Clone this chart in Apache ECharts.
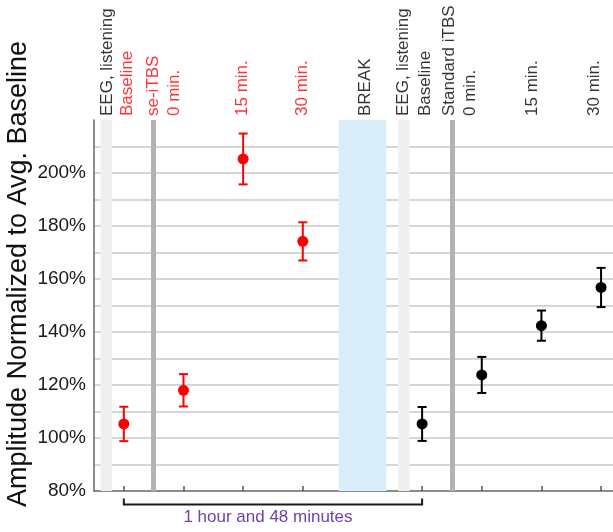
<!DOCTYPE html>
<html><head><meta charset="utf-8">
<script src="https://cdn.jsdelivr.net/npm/echarts@6/dist/echarts.min.js"></script>
<style>html,body{margin:0;padding:0;background:#fff}#c{width:613px;height:532px}</style>
</head><body><div id="c"></div>
<script>
// ---- data ----
const redX = [0, 1, 2, 3];
const redMean = [105.3, 118.0, 205.3, 174.2];
const redErr = [6.5, 6.1, 9.6, 7.2];
const blackX = [5, 6, 7, 8];
const blackMean = [105.3, 123.8, 142.4, 156.8];
const blackErr = [6.4, 6.8, 5.7, 7.4];
const yTickLabels = [80, 100, 120, 140, 160, 180, 200];
const xTicks = [0, 1, 2, 3, 4, 5, 6, 7, 8];
const yTitle = 'Amplitude Normalized to Avg. Baseline';
const headerText = ['EEG, listening', 'Baseline', 'se-iTBS', '0 min.', '15 min.', '30 min.', 'BREAK', 'EEG, listening', 'Baseline', 'Standard iTBS', '0 min.', '15 min.', '30 min.'];
const headerRed = [false, true, true, true, true, true, false, false, false, false, false, false, false];
const headerX = [-0.28, 0.06, 0.5, 0.85, 1.98, 2.99, 4.05, 4.69, 5.05, 5.45, 5.81, 6.85, 7.88];
const lightBands = [[-0.39, -0.2], [4.6, 4.79]];
const breakBand = [3.6, 4.4];
const stimLines = [0.5, 5.5];
const bracketRange = [0, 5];
const bracketText = '1 hour and 48 minutes';

const FONT = '"Liberation Sans", Arial, sans-serif';
const RED = '#ff0000', BLACK = '#000000';

function errBar(color) {
  return function (params, api) {
    const x = api.value(0), lo = api.value(1), hi = api.value(2);
    const a = api.coord([x, hi]), b = api.coord([x, lo]);
    const w = 4.5;
    const st = { stroke: color, lineWidth: 2 };
    return { type: 'group', children: [
      { type: 'line', shape: { x1: a[0], y1: a[1], x2: b[0], y2: b[1] }, style: st },
      { type: 'line', shape: { x1: a[0] - w, y1: a[1], x2: a[0] + w, y2: a[1] }, style: st },
      { type: 'line', shape: { x1: b[0] - w, y1: b[1], x2: b[0] + w, y2: b[1] }, style: st }
    ]};
  };
}

const chart = echarts.init(document.getElementById('c'), null, { renderer: 'canvas' });
chart.setOption({
  animation: false,
  textStyle: { fontFamily: FONT },
  grid: { left: 94, right: 0, top: 120, bottom: 41, containLabel: false, outerBoundsMode: 'none' },
  graphic: [{
    type: 'text', x: 19, y: 274, rotation: Math.PI / 2, silent: true,
    style: { text: yTitle, fontSize: 27, fill: '#111', fontFamily: FONT, align: 'center', verticalAlign: 'middle' }
  }],
  xAxis: {
    type: 'value', min: -0.5, max: 8.2,
    axisLine: { show: true, onZero: false, lineStyle: { color: '#666', width: 1.5 } },
    axisTick: { show: true, customValues: xTicks, inside: true, length: 5, lineStyle: { color: '#555', width: 1.5 } },
    axisLabel: { show: false },
    splitLine: { show: false }
  },
  yAxis: {
    type: 'value', min: 80, max: 220, interval: 10,
    axisLine: { show: true, onZero: false, lineStyle: { color: '#666', width: 1.5 } },
    axisTick: { show: false },
    axisLabel: { customValues: yTickLabels, formatter: '{value}%', fontSize: 19, color: '#1a1a1a', margin: 8, fontFamily: FONT },
    splitLine: { show: true, showMinLine: false, showMaxLine: false, lineStyle: { color: '#c8c8c8', width: 1.5 } }
  },
  series: [
    {
      type: 'scatter', symbolSize: 0, silent: true, z: 1,
      data: headerX.map((x, i) => ({
        value: [x, 220],
        label: { formatter: headerText[i], color: headerRed[i] ? RED : BLACK }
      })),
      label: { show: true, position: 'top', distance: 4, rotate: 90, align: 'left', verticalAlign: 'middle', fontSize: 17, fontFamily: FONT },
      markArea: {
        silent: true,
        data: [
          ...lightBands.map(b => [{ xAxis: b[0], itemStyle: { color: '#efefef' } }, { xAxis: b[1] }]),
          [{ xAxis: breakBand[0], itemStyle: { color: '#d9eef9' } }, { xAxis: breakBand[1] }]
        ]
      },
      markLine: {
        silent: true, symbol: 'none', label: { show: false },
        lineStyle: { color: '#b3b3b3', width: 5, type: 'solid' },
        data: stimLines.map(x => ({ xAxis: x }))
      }
    },
    {
      type: 'custom', z: 3, clip: false,
      data: redX.map((x, i) => [x, redMean[i] - redErr[i], redMean[i] + redErr[i]]),
      encode: { x: 0, y: [1, 2] },
      renderItem: errBar(RED)
    },
    {
      type: 'custom', z: 3, clip: false,
      data: blackX.map((x, i) => [x, blackMean[i] - blackErr[i], blackMean[i] + blackErr[i]]),
      encode: { x: 0, y: [1, 2] },
      renderItem: errBar(BLACK)
    },
    {
      type: 'scatter', z: 4, symbol: 'circle', symbolSize: 11,
      itemStyle: { color: RED, opacity: 1 },
      data: redX.map((x, i) => [x, redMean[i]])
    },
    {
      type: 'scatter', z: 4, symbol: 'circle', symbolSize: 11,
      itemStyle: { color: BLACK, opacity: 1 },
      data: blackX.map((x, i) => [x, blackMean[i]])
    },
    {
      type: 'custom', z: 5, clip: false, silent: true,
      data: [[bracketRange[0], bracketRange[1]]],
      encode: { x: [0, 1] },
      renderItem: function (params, api) {
        const p0 = api.coord([api.value(0), 80]);
        const p1 = api.coord([api.value(1), 80]);
        const yb = p0[1] + 13.5;
        return { type: 'group', children: [
          { type: 'polyline', shape: { points: [[p0[0], yb - 6], [p0[0], yb], [p1[0], yb], [p1[0], yb - 6]] },
            style: { stroke: '#1a1a1a', lineWidth: 2, fill: null } },
          { type: 'text', x: (p0[0] + p1[0]) / 2 - 5, y: yb + 13,
            style: { text: bracketText, fill: '#6e3fb5', fontSize: 17, fontFamily: FONT, align: 'center', verticalAlign: 'middle' } }
        ]};
      }
    }
  ]
});
</script>
</body></html>
